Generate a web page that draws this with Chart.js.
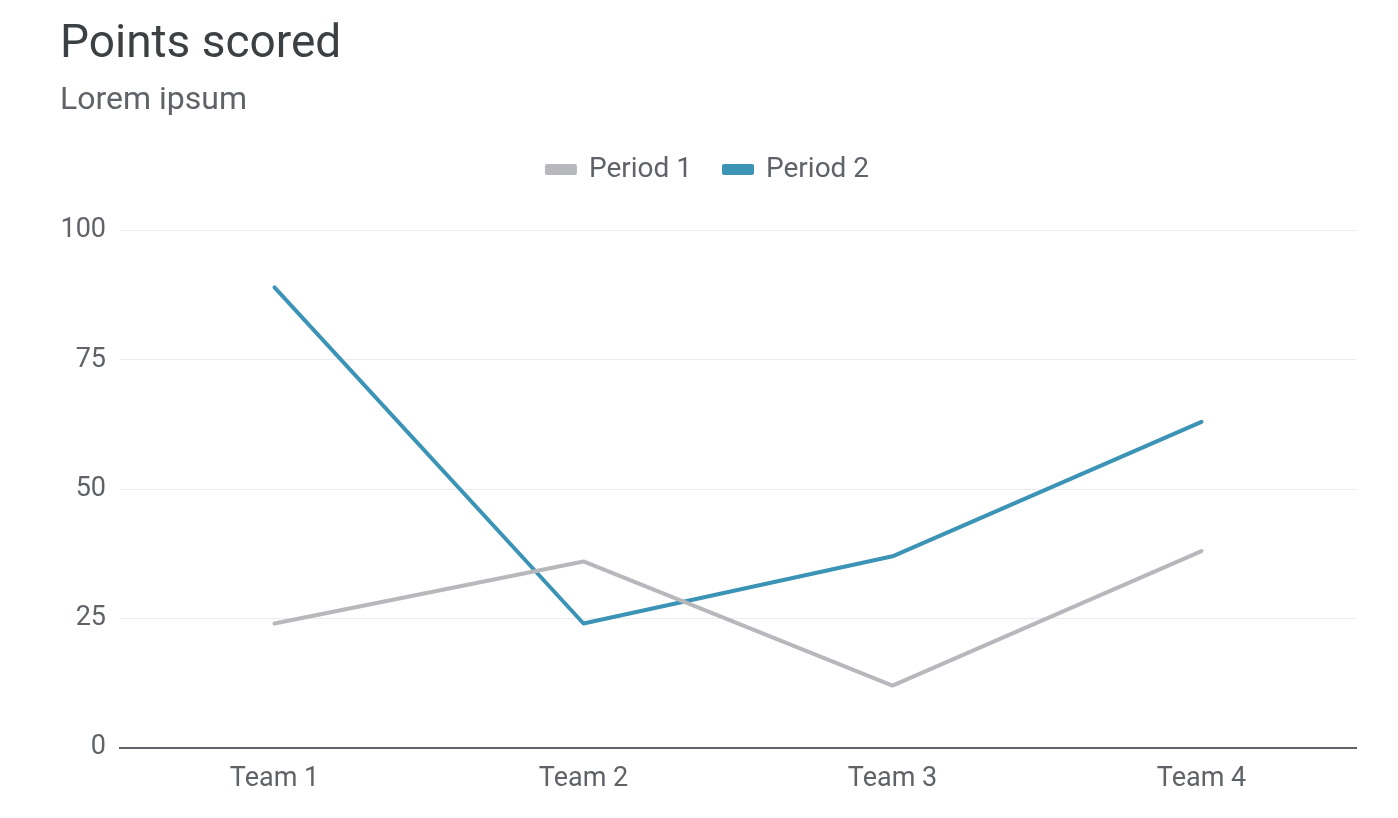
<!doctype html>
<html>
    <head>
        <title>Points scored</title>
        <script src="https://cdn.jsdelivr.net/npm/chart.js@4/dist/chart.umd.min.js"></script>
        <style>
            html, body { margin: 0; padding: 0; background: #ffffff; }
            #wrap { width: 1398px; height: 818px; position: relative; }
        </style>
    </head>

    <body>
        <div id="wrap"><canvas id="chart"></canvas></div>

        <script>
        // chart data
        var teams = ["Team 1", "Team 2", "Team 3", "Team 4"];
        var period1 = [24, 36, 12, 38];
        var period2 = [89, 24, 37, 63];
        var yTicks = [0, 25, 50, 75, 100];

        var textColor = "#5f6368";
        var fontFamily = "Roboto, 'Noto Sans', sans-serif";

        Chart.defaults.font.family = fontFamily;
        Chart.defaults.color = textColor;

        // push the plot down below the legend
        var legendGap = {
            id: "legendGap",
            beforeInit: function(chart) {
                var fit = chart.legend.fit;
                chart.legend.fit = function() {
                    fit.call(chart.legend);
                    this.height += 37;
                };
            }
        };

        var chart = new Chart(document.getElementById("chart"), {
            type: "line",
            data: {
                labels: teams,
                datasets: [
                    {
                        label: "Period 1",
                        data: period1,
                        borderColor: "#b7b8bc",
                        backgroundColor: "#b7b8bc",
                        borderWidth: 4,
                        borderCapStyle: "round",
                        borderJoinStyle: "round",
                        pointRadius: 0,
                        tension: 0
                    },
                    {
                        label: "Period 2",
                        data: period2,
                        borderColor: "#3b93b6",
                        backgroundColor: "#3b93b6",
                        borderWidth: 4,
                        borderCapStyle: "round",
                        borderJoinStyle: "round",
                        pointRadius: 0,
                        tension: 0
                    }
                ]
            },
            plugins: [legendGap],
            options: {
                responsive: true,
                maintainAspectRatio: false,
                animation: false,
                layout: {
                    padding: { left: 60, right: 42, top: 14, bottom: 16 }
                },
                plugins: {
                    title: {
                        display: true,
                        text: "Points scored",
                        align: "start",
                        color: "#3c4043",
                        font: { size: 46, weight: "normal" },
                        padding: { top: 4, bottom: 9 }
                    },
                    subtitle: {
                        display: true,
                        text: "Lorem ipsum",
                        align: "start",
                        color: "#5f6368",
                        font: { size: 32, weight: "normal" },
                        padding: { top: 0, bottom: 3 }
                    },
                    legend: {
                        display: true,
                        position: "top",
                        labels: {
                            boxWidth: 28,
                            boxHeight: 7,
                            padding: 32,
                            color: "#5f6368",
                            font: { size: 28 }
                        }
                    },
                    tooltip: { enabled: false }
                },
                scales: {
                    x: {
                        offset: true,
                        grid: { display: false },
                        border: { display: true, color: "#5f6368", width: 2 },
                        ticks: { padding: 7, font: { size: 27 }, color: textColor }
                    },
                    y: {
                        min: 0,
                        max: 100,
                        afterBuildTicks: function(axis) {
                            axis.ticks = yTicks.map(function(v) { return { value: v }; });
                        },
                        afterFit: function(axis) {
                            axis.width = 60;
                        },
                        grid: { color: "#ececec", lineWidth: 1, drawTicks: false },
                        border: { display: false },
                        ticks: { padding: 14, font: { size: 27 }, color: textColor }
                    }
                }
            }
        });
        </script>
    </body>

</html>
